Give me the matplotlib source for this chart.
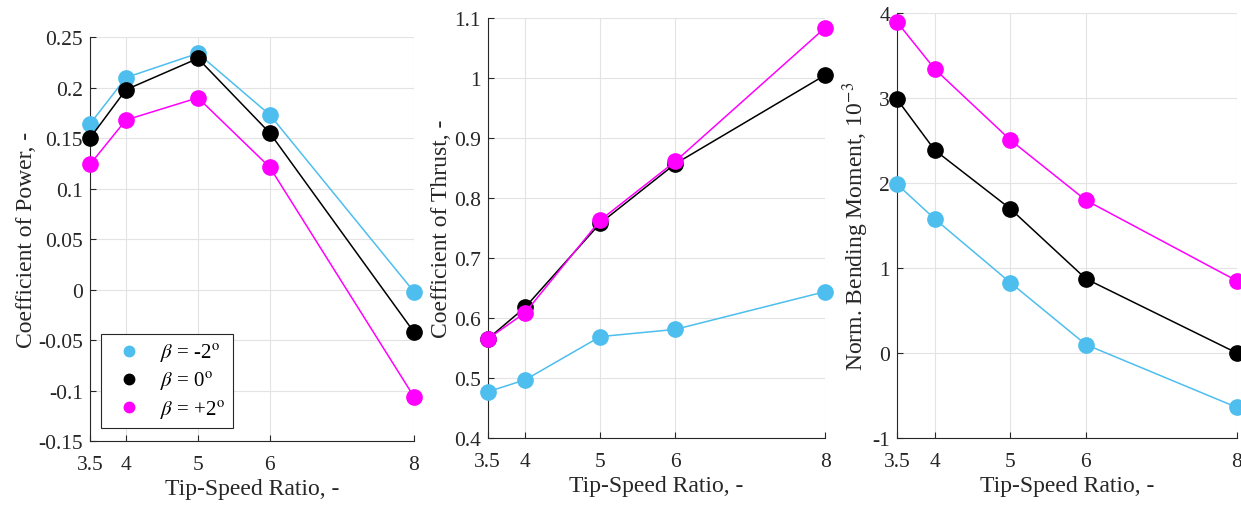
import matplotlib
matplotlib.use("Agg")
import matplotlib.pyplot as plt

plt.rcParams['font.family'] = ['Liberation Serif', 'DejaVu Serif']
plt.rcParams['mathtext.fontset'] = 'stix'

tsr = [3.5, 4, 5, 6, 8]
xtick_labels = ['3.5', '4', '5', '6', '8']

# coefficient of power
cp_m2 = [0.164, 0.210, 0.234, 0.173, -0.002]
cp_0 = [0.150, 0.198, 0.229, 0.155, -0.042]
cp_p2 = [0.124, 0.168, 0.190, 0.121, -0.106]

# coefficient of thrust
ct_m2 = [0.477, 0.497, 0.569, 0.581, 0.644]
ct_0 = [0.565, 0.618, 0.758, 0.857, 1.005]
ct_p2 = [0.565, 0.609, 0.763, 0.861, 1.084]

# normalised bending moment (x 1e-3)
bm_m2 = [1.99, 1.58, 0.83, 0.10, -0.64]
bm_0 = [2.99, 2.39, 1.70, 0.875, 0.00]
bm_p2 = [3.90, 3.345, 2.51, 1.80, 0.85]

labels = [r'$\beta$ = -2$^{\rm o}$', r'$\beta$ = 0$^{\rm o}$', r'$\beta$ = +2$^{\rm o}$']
colors = ['#4DBEEE', '#000000', '#FF00FF']

fig = plt.figure(figsize=(12.41, 5.06), dpi=100)
ax1 = fig.add_axes([0.0725, 0.1265, 0.261, 0.798])
ax2 = fig.add_axes([0.393, 0.1324, 0.272, 0.830])
ax3 = fig.add_axes([0.7228, 0.1324, 0.274, 0.839])


def style(ax, ylim, yticks, yticklabels, ylabel):
    ax.set_xlim(3.5, 8)
    ax.set_ylim(*ylim)
    ax.set_xticks(tsr)
    ax.set_xticklabels(xtick_labels)
    ax.set_yticks(yticks)
    ax.set_yticklabels(yticklabels)
    ax.grid(True, color='#e3e3e3', linewidth=0.8)
    ax.set_axisbelow(True)
    for s in ['top', 'right']:
        ax.spines[s].set_visible(False)
    for s in ['left', 'bottom']:
        ax.spines[s].set_color('#262626')
        ax.spines[s].set_linewidth(0.8)
    ax.tick_params(direction='in', labelsize=15.5, colors='#262626', length=4)
    ax.tick_params(axis='x', pad=10)
    ax.tick_params(axis='y', pad=5)
    ax.set_xlabel('Tip-Speed Ratio, -', fontsize=17, color='#262626', labelpad=3)
    ax.set_ylabel(ylabel, fontsize=17, color='#262626', labelpad=1)


for ax, series in [(ax1, [cp_m2, cp_0, cp_p2]), (ax2, [ct_m2, ct_0, ct_p2]), (ax3, [bm_m2, bm_0, bm_p2])]:
    for vals, c, lab in zip(series, colors, labels):
        ax.plot(tsr, vals, '-o', color=c, markersize=11, linewidth=1.1, label=lab, clip_on=False, zorder=3)

style(ax1, (-0.15, 0.25), [-0.15, -0.1, -0.05, 0, 0.05, 0.1, 0.15, 0.2, 0.25],
      ['-0.15', '-0.1', '-0.05', '0', '0.05', '0.1', '0.15', '0.2', '0.25'], 'Coefficient of Power, -')
style(ax2, (0.4, 1.1), [0.4, 0.5, 0.6, 0.7, 0.8, 0.9, 1.0, 1.1],
      ['0.4', '0.5', '0.6', '0.7', '0.8', '0.9', '1', '1.1'], 'Coefficient of Thrust, -')
style(ax3, (-1, 4), [-1, 0, 1, 2, 3, 4], ['-1', '0', '1', '2', '3', '4'], 'Norm. Bending Moment, 10$^{-3}$')

handles = [plt.Line2D([], [], marker='o', linestyle='none', color=c, markersize=7.5) for c in colors]
leg = ax1.legend(handles, labels, loc='lower left', bbox_to_anchor=(0.034, 0.032), borderaxespad=0,
                 fontsize=15, frameon=True, fancybox=False, edgecolor='#262626', framealpha=1,
                 handlelength=2.0, handletextpad=0.5, borderpad=0.35, labelspacing=0.3)
leg.get_frame().set_linewidth(0.8)

fig.savefig('out.png', dpi=100)
